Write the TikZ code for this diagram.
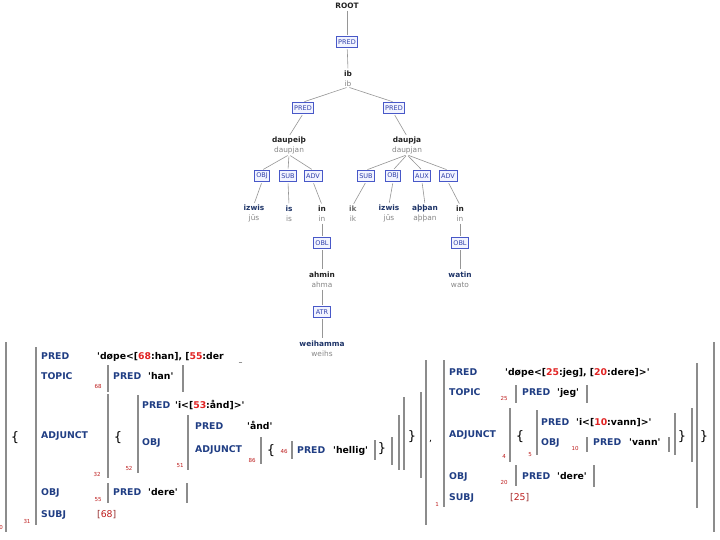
\documentclass[tikz,border=0pt]{standalone}
\usepackage{fontspec}
\setmainfont{DejaVu Sans}
\usepackage{xcolor}
\usepackage{tikz}
\definecolor{lblblue}{RGB}{72,88,200}
\definecolor{lblfill}{RGB}{242,244,255}
\definecolor{lbltext}{RGB}{48,64,170}
\definecolor{wordnavy}{RGB}{30,52,104}
\definecolor{wordblack}{RGB}{34,34,34}
\definecolor{lemgray}{RGB}{135,135,135}
\definecolor{linkgray}{RGB}{150,150,150}
\definecolor{attrblue}{RGB}{32,62,132}
\definecolor{idxred}{RGB}{190,30,30}
\definecolor{valred}{RGB}{225,35,35}
\definecolor{subjred}{RGB}{150,45,45}
\definecolor{bargray}{RGB}{140,140,140}
\newcommand{\avmfont}{\fontsize{9.3}{11}\selectfont\bfseries}
\newcommand{\fsref}[1]{\textcolor{valred}{#1}}
\newcommand{\sqt}{\textquotesingle}

\begin{document}
\begin{tikzpicture}[x=1pt, y=-1pt,
  lbl/.style={draw=lblblue, fill=lblfill, text=lbltext, line width=0.7pt, inner xsep=2pt, inner ysep=0pt, minimum height=11pt, font=\fontsize{6.5}{7}\selectfont},
  word/.style={align=center, inner sep=0.5pt, font=\fontsize{7.4}{10}\selectfont},
  link/.style={draw=linkgray, line width=0.6pt, shorten <=1.5pt, shorten >=1.5pt},
  attr/.style={anchor=west, inner sep=0pt, text height=7pt, text depth=2pt, text=attrblue, font=\avmfont},
  val/.style={anchor=west, inner sep=0pt, text height=7pt, text depth=2pt, font=\avmfont},
  fsno/.style={inner sep=0pt, text=idxred, font=\fontsize{5.5}{6}\selectfont},
  brace/.style={inner sep=0pt, font=\fontsize{13}{13}\selectfont},
  bar/.style={draw=bargray, line width=2pt}
]
\fill[white] (0,0) rectangle (720,540);
\useasboundingbox (0,0) rectangle (720,540);

% Dependency tree
\node[word, text=wordblack] (root) at (347,6) {\textbf{ROOT}};
\node[lbl] (p0) at (347,42) {PRED};
\node[word, text=wordblack] (ib) at (348,78.5) {\textbf{ib}\\\textcolor{lemgray}{ib}};
\node[lbl] (pl) at (303,108) {PRED};
\node[lbl] (pr) at (394,108) {PRED};
\node[word, text=wordblack] (daupeih) at (289,145.5) {\textbf{daupeiþ}\\\textcolor{lemgray}{daupjan}};
\node[word, text=wordblack] (daupja) at (407,145.5) {\textbf{daupja}\\\textcolor{lemgray}{daupjan}};

\node[lbl] (obja) at (262,176) {OBJ};
\node[lbl] (suba) at (288,176) {SUB};
\node[lbl] (adva) at (313,176) {ADV};
\node[lbl] (subb) at (366,176) {SUB};
\node[lbl] (objb) at (393,176) {OBJ};
\node[lbl] (auxb) at (422,176) {AUX};
\node[lbl] (advb) at (448,176) {ADV};

\node[word, text=wordnavy] (izwisa) at (254,213.5) {\textbf{izwis}\\\textcolor{lemgray}{jūs}};
\node[word, text=wordnavy] (is) at (289,213.5) {\textbf{is}\\\textcolor{lemgray}{is}};
\node[word, text=wordblack] (ina) at (322,213.5) {\textbf{in}\\\textcolor{lemgray}{in}};
\node[word, text=lemgray!80!black] (ik) at (353,213.5) {\textbf{ik}\\\textcolor{lemgray}{ik}};
\node[word, text=wordnavy] (izwisb) at (389,213.5) {\textbf{izwis}\\\textcolor{lemgray}{jūs}};
\node[word, text=wordnavy] (abban) at (425,213.5) {\textbf{aþþan}\\\textcolor{lemgray}{aþþan}};
\node[word, text=wordblack] (inb) at (460,213.5) {\textbf{in}\\\textcolor{lemgray}{in}};

\node[lbl] (obla) at (322,243) {OBL};
\node[word, text=wordblack] (ahmin) at (322,279.5) {\textbf{ahmin}\\\textcolor{lemgray}{ahma}};
\node[lbl] (atr) at (322,312) {ATR};
\node[word, text=wordnavy] (weihamma) at (322,348.5) {\textbf{weihamma}\\\textcolor{lemgray}{weihs}};
\node[lbl] (oblb) at (460,243) {OBL};
\node[word, text=wordnavy] (watin) at (460,279.5) {\textbf{watin}\\\textcolor{lemgray}{wato}};

\draw[link] (root) -- (p0);
\draw[link] (p0) -- (ib.north);
\draw[link] (ib.south) -- (pl.north);
\draw[link] (ib.south) -- (pr.north);
\draw[link] (pl.south) -- (daupeih.north);
\draw[link] (pr.south) -- (daupja.north);
\draw[link] (daupeih.south) -- (obja.north);
\draw[link] (daupeih.south) -- (suba.north);
\draw[link] (daupeih.south) -- (adva.north);
\draw[link] (daupja.south) -- (subb.north);
\draw[link] (daupja.south) -- (objb.north);
\draw[link] (daupja.south) -- (auxb.north);
\draw[link] (daupja.south) -- (advb.north);
\draw[link] (obja.south) -- (izwisa.north);
\draw[link] (suba.south) -- (is.north);
\draw[link] (adva.south) -- (ina.north);
\draw[link] (subb.south) -- (ik.north);
\draw[link] (objb.south) -- (izwisb.north);
\draw[link] (auxb.south) -- (abban.north);
\draw[link] (advb.south) -- (inb.north);
\draw[link] (ina.south) -- (obla.north);
\draw[link] (obla.south) -- (ahmin.north);
\draw[link] (ahmin.south) -- (atr.north);
\draw[link] (atr.south) -- (weihamma.north);
\draw[link] (inb.south) -- (oblb.north);
\draw[link] (oblb.south) -- (watin.north);

% Outer set
\draw[bar] (6,342) -- (6,532);
\draw[bar] (714,342) -- (714,532);
\node[fsno] (no0) at (1,527) {0};
\node[brace] (setopen) at (15,438) {\{};
\node[brace] (setclose) at (704,437) {\}};
\node[val, font=\fontsize{9.3}{11}\selectfont] (comma) at (429,439) {,};

% Left f-structure
\draw[bar] (36,347) -- (36,525);
\draw[bar] (426,360) -- (426,525);
\node[fsno] (no31) at (27,521) {31};
\node[attr] (predl) at (41,357) {PRED};
\node[attr] (topicl) at (41,377) {TOPIC};
\node[attr] (adjl) at (41,436) {ADJUNCT};
\node[attr] (objl) at (41,493) {OBJ};
\node[attr] (subjl) at (41,515) {SUBJ};
\node[val] (predlv) at (97,357) {\sqt døpe<[\fsref{68}:han], [\fsref{55}:der};
\node[val, font=\fontsize{6}{6}\selectfont] (cut) at (239,359) {\_};

\node[fsno] (no68) at (98,386) {68};
\draw[bar] (108,365) -- (108,392);
\draw[bar] (183,365) -- (183,392);
\node[attr] (predhan) at (113,377) {PRED};
\node[val] (han) at (148,377) {\sqt han\sqt};

\node[fsno] (no32) at (97,474) {32};
\draw[bar] (108,394) -- (108,478);
\draw[bar] (421,392) -- (421,478);
\node[brace] (adjopen) at (118,438) {\{};
\node[brace] (adjclose) at (412,437) {\}};
\node[fsno] (no52) at (129,468) {52};
\draw[bar] (138,395) -- (138,473);
\draw[bar] (404,397) -- (404,470);
\node[attr] (predi) at (142,406) {PRED};
\node[val] (ival) at (175,406) {\sqt i<[\fsref{53}:ånd]>\sqt};
\node[attr] (obji) at (142,443) {OBJ};

\node[fsno] (no51) at (180,466) {51};
\draw[bar] (188,415) -- (188,470);
\draw[bar] (399,415) -- (399,470);
\node[attr] (predand) at (195,427) {PRED};
\node[val] (and) at (247,427) {\sqt ånd\sqt};
\node[attr] (adjand) at (195,450) {ADJUNCT};
\node[fsno] (no86) at (252,460) {86};
\draw[bar] (261,437) -- (261,464);
\draw[bar] (392,437) -- (392,465);
\node[brace] (hopen) at (271,451) {\{};
\node[brace] (hclose) at (382,449) {\}};
\node[fsno] (no46) at (284,451) {46};
\draw[bar] (292,441) -- (292,459);
\draw[bar] (375,440) -- (375,460);
\node[attr] (predh) at (297,451) {PRED};
\node[val] (hellig) at (333,451) {\sqt hellig\sqt};

\node[fsno] (no55) at (98,500) {55};
\draw[bar] (108,483) -- (108,503);
\draw[bar] (187,483) -- (187,503);
\node[attr] (preddl) at (113,493) {PRED};
\node[val] (derel) at (148,493) {\sqt dere\sqt};
\node[val, font=\fontsize{9.3}{11}\selectfont, text=subjred] (subjlv) at (97,515) {[\textcolor{idxred}{68}]};

% Right f-structure
\draw[bar] (444,360) -- (444,507);
\draw[bar] (697,363) -- (697,508);
\node[fsno] (no1) at (437,504) {1};
\node[attr] (predr) at (449,373) {PRED};
\node[attr] (topicr) at (449,393) {TOPIC};
\node[attr] (adjr) at (449,435) {ADJUNCT};
\node[attr] (objr) at (449,477) {OBJ};
\node[attr] (subjr) at (449,498) {SUBJ};
\node[val] (predrv) at (505,373) {\sqt døpe<[\fsref{25}:jeg], [\fsref{20}:dere]>\sqt};

\node[fsno] (no25) at (504,398) {25};
\draw[bar] (516,385) -- (516,403);
\draw[bar] (587,385) -- (587,403);
\node[attr] (predjeg) at (522,393) {PRED};
\node[val] (jeg) at (557,393) {\sqt jeg\sqt};

\node[fsno] (no4) at (504,456) {4};
\draw[bar] (510,408) -- (510,462);
\draw[bar] (692,408) -- (692,462);
\node[brace] (radjopen) at (520,437) {\{};
\node[brace] (radjclose) at (682,437) {\}};
\node[fsno] (no5) at (530,455) {5};
\draw[bar] (537,410) -- (537,455);
\draw[bar] (675,413) -- (675,455);
\node[attr] (predir) at (541,423) {PRED};
\node[val] (irval) at (576,423) {\sqt i<[\fsref{10}:vann]>\sqt};
\node[attr] (objir) at (541,443) {OBJ};
\node[fsno] (no10) at (575,448) {10};
\draw[bar] (587,437) -- (587,452);
\draw[bar] (669,437) -- (669,452);
\node[attr] (predvann) at (593,443) {PRED};
\node[val] (vann) at (629,443) {\sqt vann\sqt};

\node[fsno] (no20) at (504,482) {20};
\draw[bar] (516,465) -- (516,486);
\draw[bar] (594,465) -- (594,487);
\node[attr] (preddr) at (522,477) {PRED};
\node[val] (derer) at (557,477) {\sqt dere\sqt};
\node[val, font=\fontsize{9.3}{11}\selectfont, text=subjred] (subjrv) at (510,498) {[\textcolor{idxred}{25}]};

\end{tikzpicture}
\end{document}
